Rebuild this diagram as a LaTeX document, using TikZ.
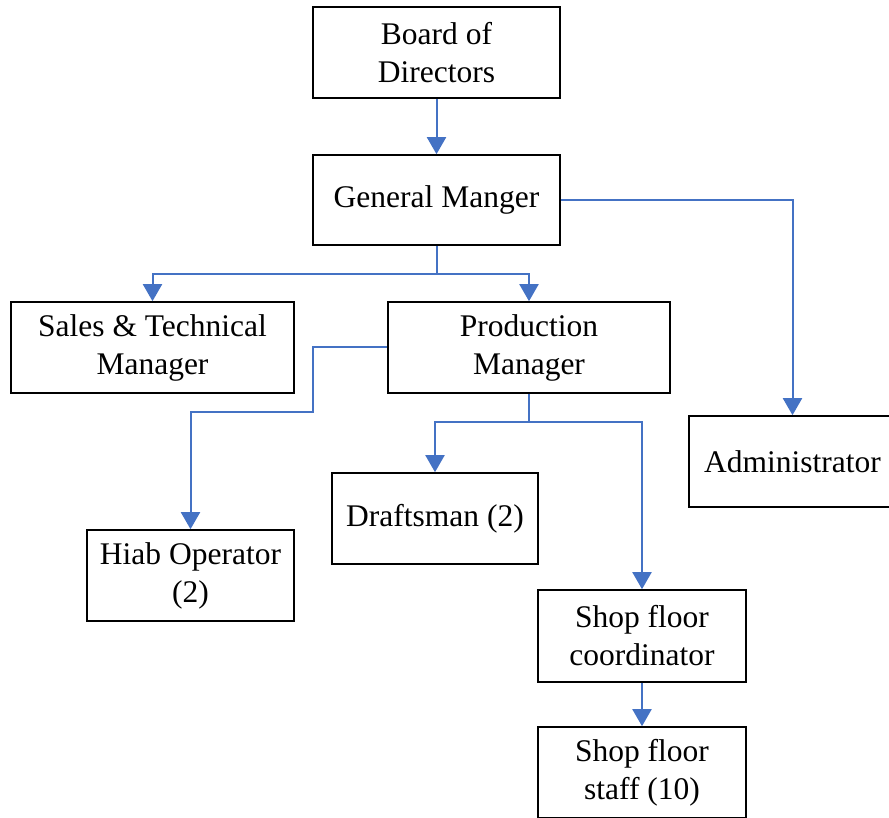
\documentclass[tikz,border=0pt]{standalone}
\usepackage{fontspec}
\setmainfont{Liberation Serif}
\usetikzlibrary{arrows.meta}
\definecolor{linkblue}{HTML}{4472C4}
\begin{document}
\begin{tikzpicture}[x=1pt,y=-1pt,
  box/.style={draw=black,line width=1.6pt,fill=white,inner sep=0pt,
    minimum height=91pt,align=center,
    font=\fontsize{31.5pt}{38pt}\selectfont},
  link/.style={draw=linkblue,line width=2pt},
  arr/.style={link,-{Triangle[width=19pt,length=17pt]}}]
  \useasboundingbox (0,0) rectangle (889,818);
  \begin{scope}
  \clip (0,0) rectangle (889,818);
  % organisation boxes
  \node[box,minimum width=247pt] (board) at (436.5,52.5) {Board of\\Directors};
  \node[box,minimum width=247pt,minimum height=90pt] (gm) at (436.5,200) {General Manger};
  \node[box,minimum width=283pt] (sales) at (152.5,347.5) {Sales \& Technical\\Manager};
  \node[box,minimum width=282pt] (prod) at (529,347.5) {Production\\Manager};
  \node[box,minimum width=207pt] (admin) at (792.5,461.5) {Administrator};
  \node[box,minimum width=207pt] (hiab) at (190.5,575.5) {Hiab Operator\\(2)};
  \node[box,minimum width=206pt] (draft) at (435,518.5) {Draftsman (2)};
  \node[box,minimum width=208pt,minimum height=92pt] (coord) at (642,636) {Shop floor\\coordinator};
  \node[box,minimum width=208pt] (staff) at (642,772.5) {Shop floor\\staff (10)};
  % junction points
  \coordinate (gmj) at (436.5,274);
  \coordinate (pw1) at (313,347.5);
  \coordinate (pw2) at (313,412);
  \coordinate (psj) at (529,422);
  \end{scope}
  % reporting lines
  \draw[arr] (board.south) -- (gm.north);
  \draw[arr] (gm.south) -- (gmj) -| (sales.north);
  \draw[arr] (gmj) -| (prod.north);
  \draw[arr] (gm.east) -| (admin.north);
  \draw[arr] (prod.west) -- (pw1) -- (pw2) -| (hiab.north);
  \draw[arr] (prod.south) -- (psj) -| (draft.north);
  \draw[arr] (psj) -| (coord.north);
  \draw[arr] (coord.south) -- (staff.north);
\end{tikzpicture}
\end{document}
